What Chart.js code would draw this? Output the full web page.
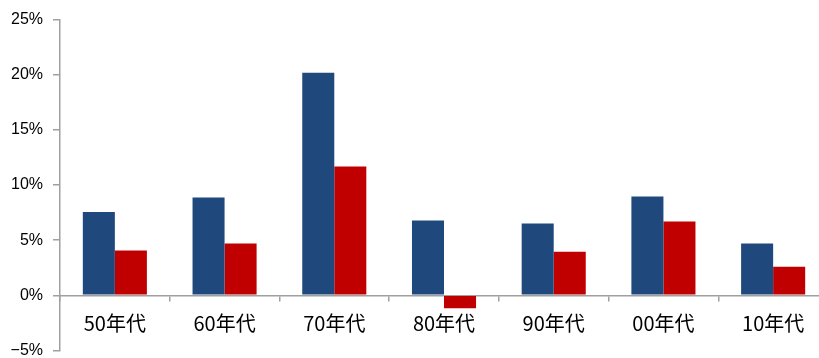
<!DOCTYPE html>
<html>
<head>
<meta charset="utf-8">
<script src="https://cdn.jsdelivr.net/npm/chart.js@4/dist/chart.umd.min.js"></script>
<style>
  body { margin: 0; background: #fff; overflow: hidden; }
  #wrap { width: 830px; height: 358px; overflow: hidden; }
</style>
</head>
<body>
<div id="wrap"><canvas id="myChart" width="830" height="370"></canvas></div>
<script>
// decades on the x axis
const labels = ['50年代', '60年代', '70年代', '80年代', '90年代', '00年代', '10年代']

// two series, in percent
const seriesA = [7.55, 8.87, 20.18, 6.77, 6.5, 8.96, 4.69]
const seriesB = [4.06, 4.69, 11.67, -1.17, 3.94, 6.68, 2.58]

// y axis range and step
const yMin = -5
const yMax = 25
const yStep = 5

const axisGrey = '#a0a0a0'

let ctx = document.getElementById('myChart').getContext('2d')

const data = {
    labels,
    datasets: [{
        data: seriesA,
        backgroundColor: '#1f497d',
        categoryPercentage: 0.584,
        barPercentage: 1,
    }, {
        data: seriesB,
        backgroundColor: '#c00000',
        categoryPercentage: 0.584,
        barPercentage: 1,
    }]
}

const config = {
    type: 'bar',
    data: data,
    options: {
        responsive: false,
        animation: false,
        layout: {
            padding: { top: 15, bottom: 8, left: 0, right: 2 }
        },
        plugins: {
            legend: { display: false },
            tooltip: { enabled: false },
        },
        scales: {
            x: {
                position: { y: 0 },
                grid: {
                    display: true,
                    drawOnChartArea: false,
                    drawTicks: true,
                    tickLength: 5,
                    color: axisGrey,
                    lineWidth: 1.5,
                },
                border: { color: axisGrey, width: 1.5 },
                ticks: {
                    color: '#000',
                    padding: 11,
                    font: { family: '"Noto Sans CJK SC", sans-serif', size: 20 },
                },
            },
            y: {
                min: yMin,
                max: yMax,
                afterFit: (scale) => { scale.width = 60 },
                grid: {
                    display: true,
                    drawOnChartArea: false,
                    drawTicks: true,
                    tickLength: 7,
                    color: axisGrey,
                    lineWidth: 1.5,
                },
                border: { color: axisGrey, width: 1.5 },
                ticks: {
                    stepSize: yStep,
                    color: '#000',
                    padding: 10,
                    font: { family: '"Liberation Sans", Arial, sans-serif', size: 16 },
                    callback: (v) => (v < 0 ? '\u2212' + Math.abs(v) : v) + '%',
                },
            }
        }
    },
}

const myChart = new Chart(ctx, config)
</script>
</body>
</html>
